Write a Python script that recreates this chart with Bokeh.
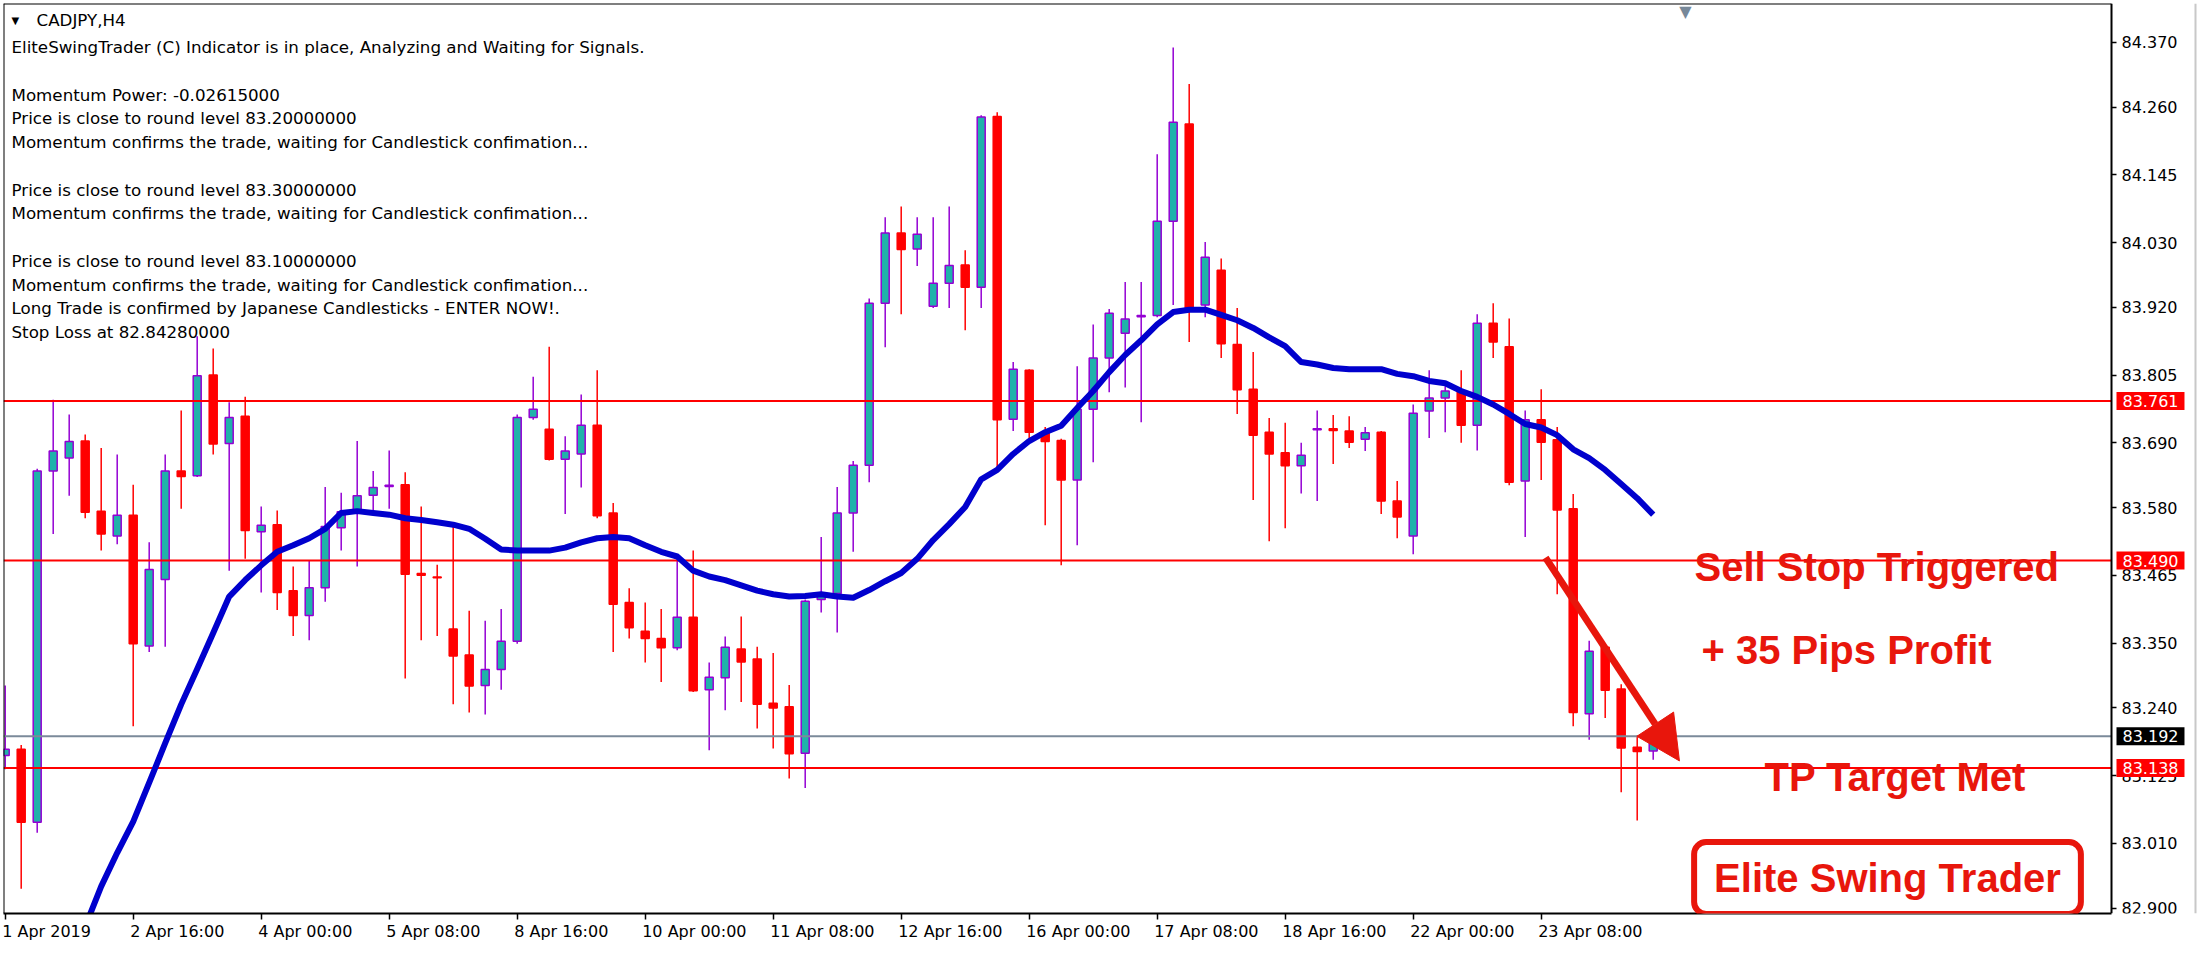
import math
from bokeh.plotting import figure
from bokeh.models import (LinearAxis, FixedTicker, Range1d, ColumnDataSource,
                          Label, Arrow, NormalHead)
from bokeh.embed import file_html
from bokeh.resources import INLINE

# ---------------- data (CADJPY H4) ----------------
opens = [83.159, 83.170, 83.046, 83.642, 83.664, 83.693, 83.574, 83.532, 83.567, 83.345,
         83.458, 83.642, 83.634, 83.805, 83.689, 83.735, 83.539, 83.551, 83.439, 83.397,
         83.444, 83.546, 83.573, 83.601, 83.616, 83.619, 83.468, 83.462, 83.374, 83.330,
         83.278, 83.305, 83.353, 83.733, 83.713, 83.662, 83.671, 83.720, 83.571, 83.419,
         83.370, 83.358, 83.342, 83.394, 83.271, 83.291, 83.340, 83.323, 83.248, 83.242,
         83.163, 83.424, 83.434, 83.571, 83.652, 83.927, 84.046, 84.019, 83.922, 83.961,
         83.992, 83.954, 84.244, 83.730, 83.813, 83.708, 83.694, 83.627, 83.747, 83.834,
         83.876, 83.904, 83.906, 84.066, 84.231, 83.924, 83.983, 83.857, 83.781, 83.708,
         83.673, 83.651, 83.712, 83.714, 83.710, 83.696, 83.708, 83.591, 83.532, 83.744,
         83.766, 83.776, 83.720, 83.893, 83.853, 83.625, 83.729, 83.695, 83.578, 83.230,
         83.343, 83.272, 83.173, 83.167]
highs = [83.278, 83.177, 83.646, 83.763, 83.738, 83.704, 83.681, 83.670, 83.619, 83.521,
         83.670, 83.745, 83.871, 83.850, 83.759, 83.768, 83.582, 83.575, 83.480, 83.491,
         83.615, 83.605, 83.693, 83.642, 83.677, 83.640, 83.582, 83.483, 83.548, 83.405,
         83.388, 83.408, 83.738, 83.802, 83.853, 83.701, 83.772, 83.813, 83.588, 83.443,
         83.419, 83.408, 83.492, 83.507, 83.317, 83.361, 83.395, 83.344, 83.333, 83.279,
         83.424, 83.530, 83.615, 83.659, 83.935, 84.073, 84.091, 84.073, 84.073, 84.091,
         84.017, 84.246, 84.251, 83.827, 83.815, 83.717, 83.697, 83.820, 83.891, 83.917,
         83.963, 83.963, 84.180, 84.361, 84.299, 84.031, 84.003, 83.919, 83.844, 83.732,
         83.724, 83.690, 83.745, 83.737, 83.735, 83.717, 83.710, 83.625, 83.755, 83.813,
         83.786, 83.813, 83.908, 83.927, 83.901, 83.745, 83.781, 83.717, 83.603, 83.354,
         83.348, 83.280, 83.193, 83.192]
lows = [83.136, 82.933, 83.028, 83.535, 83.600, 83.562, 83.507, 83.518, 83.209, 83.335,
        83.344, 83.578, 83.632, 83.670, 83.473, 83.493, 83.436, 83.406, 83.362, 83.355,
        83.420, 83.507, 83.480, 83.575, 83.578, 83.290, 83.355, 83.362, 83.246, 83.232,
        83.229, 83.271, 83.349, 83.729, 83.660, 83.569, 83.614, 83.562, 83.335, 83.358,
        83.317, 83.284, 83.338, 83.267, 83.168, 83.236, 83.250, 83.205, 83.171, 83.120,
        83.104, 83.402, 83.368, 83.505, 83.623, 83.852, 83.908, 83.990, 83.919, 83.919,
        83.881, 83.919, 83.649, 83.710, 83.696, 83.550, 83.482, 83.516, 83.657, 83.776,
        83.784, 83.725, 83.903, 83.924, 83.861, 83.903, 83.834, 83.739, 83.593, 83.523,
        83.545, 83.604, 83.591, 83.654, 83.681, 83.676, 83.569, 83.528, 83.501, 83.698,
        83.708, 83.690, 83.677, 83.834, 83.618, 83.530, 83.627, 83.433, 83.209, 83.186,
        83.223, 83.097, 83.049, 83.152]
closes = [83.170, 83.046, 83.642, 83.676, 83.692, 83.572, 83.535, 83.567, 83.349, 83.475,
          83.642, 83.633, 83.804, 83.688, 83.733, 83.541, 83.550, 83.436, 83.397, 83.444,
          83.548, 83.573, 83.600, 83.614, 83.618, 83.467, 83.465, 83.461, 83.328, 83.277,
          83.305, 83.353, 83.733, 83.747, 83.662, 83.676, 83.720, 83.566, 83.416, 83.376,
          83.358, 83.342, 83.394, 83.269, 83.292, 83.343, 83.318, 83.246, 83.240, 83.162,
          83.421, 83.430, 83.571, 83.652, 83.927, 84.046, 84.018, 84.044, 83.961, 83.991,
          83.954, 84.243, 83.729, 83.815, 83.708, 83.692, 83.627, 83.747, 83.834, 83.910,
          83.900, 83.906, 84.066, 84.234, 83.919, 84.005, 83.858, 83.780, 83.703, 83.671,
          83.651, 83.669, 83.714, 83.711, 83.691, 83.707, 83.591, 83.564, 83.740, 83.766,
          83.778, 83.720, 83.893, 83.861, 83.623, 83.729, 83.691, 83.576, 83.232, 83.336,
          83.270, 83.172, 83.166, 83.180]
NAN = float("nan")
ma_values = [NAN, NAN, NAN, NAN, NAN, 82.869, 82.937, 82.994, 83.047, 83.113,
             83.180, 83.246, 83.306, 83.367, 83.429, 83.457, 83.482, 83.505, 83.516, 83.528,
             83.544, 83.571, 83.574, 83.571, 83.568, 83.562, 83.559, 83.555, 83.551, 83.544,
             83.527, 83.509, 83.507, 83.507, 83.507, 83.512, 83.521, 83.528, 83.530, 83.528,
             83.516, 83.505, 83.497, 83.473, 83.463, 83.457, 83.448, 83.439, 83.433, 83.429,
             83.430, 83.433, 83.429, 83.427, 83.440, 83.455, 83.469, 83.493, 83.525, 83.552,
             83.581, 83.628, 83.644, 83.671, 83.693, 83.708, 83.719, 83.749, 83.778, 83.810,
             83.839, 83.864, 83.891, 83.912, 83.916, 83.916, 83.907, 83.898, 83.885, 83.869,
             83.854, 83.827, 83.823, 83.817, 83.815, 83.815, 83.815, 83.807, 83.803, 83.795,
             83.791, 83.778, 83.768, 83.755, 83.739, 83.722, 83.716, 83.703, 83.679, 83.664,
             83.644, 83.620, 83.596, 83.568]

level_prices = [83.761, 83.490, 83.138]     # red horizontal levels
current_price = 83.192                      # grey bid line

x_tick_bars = [0, 8, 16, 24, 32, 40, 48, 56, 64, 72, 80, 88, 96]
x_tick_labels = ["1 Apr 2019", "2 Apr 16:00", "4 Apr 00:00", "5 Apr 08:00", "8 Apr 16:00",
                 "10 Apr 00:00", "11 Apr 08:00", "12 Apr 16:00", "16 Apr 00:00",
                 "17 Apr 08:00", "18 Apr 16:00", "22 Apr 00:00", "23 Apr 08:00"]
y_tick_values = [84.370, 84.260, 84.145, 84.030, 83.920, 83.805, 83.690, 83.580,
                 83.465, 83.350, 83.240, 83.125, 83.010, 82.900]
y_tick_labels = ["84.370", "84.260", "84.145", "84.030", "83.920", "83.805", "83.690",
                 "83.580", "83.465", "83.350", "83.240", "83.125", "83.010", "82.900"]

header_title = "CADJPY,H4"
header_lines = [
    "EliteSwingTrader (C) Indicator is in place, Analyzing and Waiting for Signals.",
    "",
    "Momentum Power: -0.02615000",
    "Price is close to round level 83.20000000",
    "Momentum confirms the trade, waiting for Candlestick confimation...",
    "",
    "Price is close to round level 83.30000000",
    "Momentum confirms the trade, waiting for Candlestick confimation...",
    "",
    "Price is close to round level 83.10000000",
    "Momentum confirms the trade, waiting for Candlestick confimation...",
    "Long Trade is confirmed by Japanese Candlesticks - ENTER NOW!.",
    "Stop Loss at 82.84280000",
]

# ---------------- styles / geometry ----------------
UP_FILL = "#20B2AA"
UP_LINE = "#9400D3"
DOWN = "#FF0000"
MA_COLOR = "#0000CD"
NOTE_RED = "#E8160C"
GREY = "#7B8A9A"
FONT = "DejaVu Sans"
BOLD_FONT = "Liberation Sans"

LEFT, TOP = 3, 3                 # frame origin on the canvas
FRAME_W, FRAME_H = 2195, 910     # frame also covers the price-scale strip
BOTTOM_BORDER = 41
PX_PER_BAR = 16.0
X0 = (LEFT - 4.7) / PX_PER_BAR
X1 = X0 + FRAME_W / PX_PER_BAR
X_AX = (2111 - 4.7) / PX_PER_BAR   # where the price scale sits
Y1 = 84.4357
Y0 = 82.891

n = len(opens)
idx = list(range(n))
up = [c > o for o, c in zip(opens, closes)]
src = ColumnDataSource(dict(
    x=idx, open=opens, high=highs, low=lows, close=closes,
    top=[max(o, c) for o, c in zip(opens, closes)],
    bottom=[min(o, c) for o, c in zip(opens, closes)],
    fill=[UP_FILL if u else DOWN for u in up],
    edge=[UP_LINE if u else DOWN for u in up],
))

p = figure(frame_width=FRAME_W, frame_height=FRAME_H,
           x_range=Range1d(X0, X1), y_range=Range1d(Y0, Y1),
           x_axis_type=None, y_axis_type=None,
           output_backend="svg", toolbar_location=None,
           min_border_left=LEFT, min_border_top=TOP, min_border_right=0,
           min_border_bottom=BOTTOM_BORDER,
           background_fill_color="white", border_fill_color="white")
p.grid.visible = False
p.outline_line_color = None

# candles
p.segment(x0="x", y0="high", x1="x", y1="low", line_color="edge", line_width=1.5, source=src)
p.vbar(x="x", top="top", bottom="bottom", width=0.5, fill_color="fill",
       line_color="edge", line_width=1.5, source=src)

# horizontal levels (stop at the price scale)
p.segment(x0=[X0] * len(level_prices), y0=level_prices, x1=[X_AX] * len(level_prices),
          y1=level_prices, line_color=DOWN, line_width=2)
p.segment(x0=[X0], y0=[current_price], x1=[X_AX], y1=[current_price],
          line_color=GREY, line_width=2)

# moving average
p.line(idx, ma_values, line_color=MA_COLOR, line_width=6, line_join="round")

# window edge at the far right
p.vspan(x=[(2194.5 - 4.7) / PX_PER_BAR], line_color="#C8C8C8", line_width=2)

# ---------------- axes ----------------
def frame_line_axis(loc, fixed, bounds=None):
    ax = LinearAxis(ticker=FixedTicker(ticks=[]), fixed_location=fixed)
    if bounds is not None:
        ax.bounds = bounds
    ax.axis_line_color = "black"
    ax.axis_line_width = 2
    ax.major_tick_line_color = None
    ax.minor_tick_line_color = None
    p.add_layout(ax, loc)

frame_line_axis("left", X0)
frame_line_axis("above", Y1, (X0, X_AX))

yaxis = LinearAxis(ticker=FixedTicker(ticks=y_tick_values), fixed_location=X_AX,
                   major_label_overrides={v: s for v, s in zip(y_tick_values, y_tick_labels)})
yaxis.axis_line_color = "black"
yaxis.axis_line_width = 2
yaxis.major_tick_line_color = "black"
yaxis.major_tick_line_width = 1.5
yaxis.major_tick_out = 5
yaxis.major_tick_in = 0
yaxis.minor_tick_line_color = None
yaxis.major_label_standoff = 5
yaxis.major_label_text_font = FONT
yaxis.major_label_text_font_size = "16px"
yaxis.major_label_text_color = "black"
p.add_layout(yaxis, "right")

# MT4 writes each date label starting at its tick: labels sit on major ticks shifted by half
# their width, the tick marks themselves are the minor ticks at the bar positions.
CHAR_W = {"0": .636, "1": .636, "2": .636, "3": .636, "4": .636, "5": .636, "6": .636,
          "7": .636, "8": .636, "9": .636, " ": .318, ":": .337, "A": .684, "p": .635, "r": .411}
label_pos = []
for b, s in zip(x_tick_bars, x_tick_labels):
    w = sum(CHAR_W.get(ch, 0.6) for ch in s) * 16
    label_pos.append(round(b + (w / 2 - 3) / PX_PER_BAR, 4))
xaxis = LinearAxis(ticker=FixedTicker(ticks=label_pos, minor_ticks=x_tick_bars),
                   bounds=(X0, X_AX),
                   major_label_overrides={v: s for v, s in zip(label_pos, x_tick_labels)})
xaxis.axis_line_color = "black"
xaxis.axis_line_width = 2
xaxis.major_tick_line_color = None
xaxis.major_tick_out = 0
xaxis.major_tick_in = 0
xaxis.minor_tick_line_color = "black"
xaxis.minor_tick_line_width = 1.5
xaxis.minor_tick_out = 6
xaxis.minor_tick_in = 0
xaxis.major_label_standoff = 2
xaxis.major_label_text_font = FONT
xaxis.major_label_text_font_size = "16px"
xaxis.major_label_text_color = "black"
p.add_layout(xaxis, "below")

# ---------------- header text (screen units: origin = frame bottom-left) ----------------
def sx(page_x):
    return page_x - LEFT

def sy(page_y):
    return TOP + FRAME_H - page_y

p.add_layout(Label(x=sx(11), y=sy(20), x_units="screen", y_units="screen", text="▼",
                   text_font=FONT, text_font_size="10px", text_baseline="middle",
                   text_color="black"))
p.add_layout(Label(x=sx(36), y=sy(19), x_units="screen", y_units="screen", text=header_title,
                   text_font=FONT, text_font_size="16.7px", text_baseline="middle",
                   text_color="black"))
for k, line in enumerate(header_lines):
    if line:
        p.add_layout(Label(x=sx(11), y=sy(46.5 + 23.75 * k), x_units="screen", y_units="screen",
                           text=line, text_font=FONT, text_font_size="16.7px",
                           text_baseline="middle", text_color="black"))

# chart-shift marker hanging from the top border
p.add_layout(Label(x=sx(1685), y=sy(1), x_units="screen", y_units="screen", text="▼",
                   text_font=FONT, text_font_size="16px", text_align="center",
                   text_baseline="top", text_color="#778899"))

# ---------------- price tags on the price scale ----------------
TAG_X = (2116 - 4.7) / PX_PER_BAR
for price in level_prices:
    p.add_layout(Label(x=TAG_X, y=price, text=f"{price:.3f}",
                       text_font=FONT, text_font_size="16px", text_color="white",
                       text_baseline="middle", background_fill_color=DOWN,
                       padding=dict(x=6, y=3)))
p.add_layout(Label(x=TAG_X, y=current_price, text=f"{current_price:.3f}",
                   text_font=FONT, text_font_size="16px", text_color="white",
                   text_baseline="middle", background_fill_color="black",
                   padding=dict(x=6, y=3)))

# ---------------- trade annotations ----------------
notes = [("Sell Stop Triggered", 1694, 566),
         ("+ 35 Pips Profit", 1701, 649),
         ("TP Target Met", 1764, 776)]
for txt, x, y in notes:
    p.add_layout(Label(x=sx(x), y=sy(y), x_units="screen", y_units="screen", text=txt,
                       text_font=BOLD_FONT, text_font_style="bold", text_font_size="40px",
                       text_color=NOTE_RED, text_baseline="middle"))

p.add_layout(Label(x=sx(1887), y=sy(877.5), x_units="screen", y_units="screen",
                   text="Elite Swing Trader", text_font=BOLD_FONT, text_font_style="bold",
                   text_font_size="40px", text_color=NOTE_RED, text_align="center",
                   text_baseline="middle", border_line_color=NOTE_RED, border_line_width=6,
                   background_fill_color="white", padding=dict(x=20, y=14), border_radius=12))

p.add_layout(Arrow(x_start=96.27, y_start=83.495, x_end=104.64, y_end=83.150,
                   line_color=NOTE_RED, line_width=7,
                   end=NormalHead(size=44, fill_color=NOTE_RED, line_color=NOTE_RED)))

open("out.html", "w").write(file_html(p, INLINE))
